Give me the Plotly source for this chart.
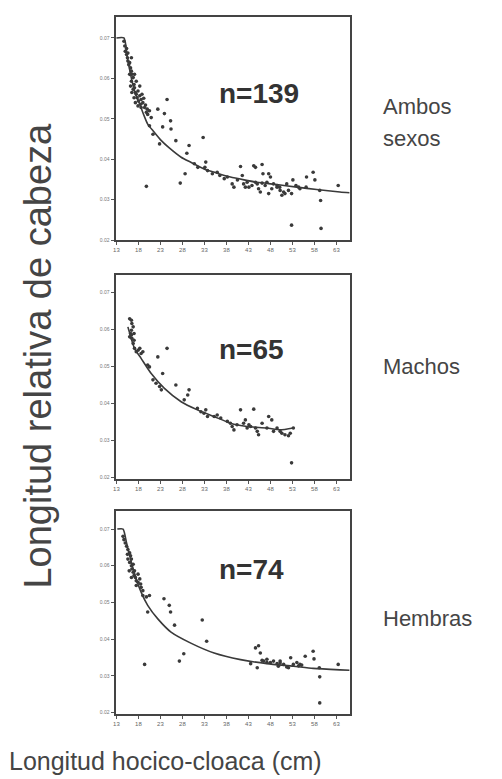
import plotly.graph_objects as go

# ---------------- data ----------------
x_ticks = [13, 18, 23, 28, 33, 38, 43, 48, 53, 58, 63]
x_tick_labels = ["13", "18", "23", "28", "33", "38", "43", "48", "53", "58", "63"]
y_ticks = [0.02, 0.03, 0.04, 0.05, 0.06, 0.07]
y_tick_labels = ["0.02", "0.03", "0.04", "0.05", "0.06", "0.07"]

# Ambos sexos (n=139)
both_x = [14.7, 14.9, 15.0, 15.3, 15.5, 15.6, 15.8, 16.0, 16.2, 16.4, 16.5, 16.4, 16.8, 17.0, 17.1, 16.8, 17.3, 17.5,
          17.7, 17.9, 18.0, 18.3, 18.5, 18.6, 19.0, 19.4, 19.8, 20.1, 20.5, 20.9, 16.0, 16.2, 16.5, 17.0, 17.3, 17.9,
          18.8, 19.2, 19.6, 20.0, 16.4, 15.6, 15.3, 17.1, 17.5, 18.3, 18.6, 20.5, 21.3, 22.8,
          22.4, 23.9, 24.5, 25.3, 25.4, 23.5, 26.5, 29.5, 32.7, 19.8, 27.5, 28.6, 29.0, 30.7, 33.3, 33.7, 33.1,
          34.8, 35.9, 38.2, 39.3, 39.7, 41.2, 41.6, 41.9, 42.7, 42.3, 44.2, 44.6, 45.0, 45.3, 45.7, 46.1, 46.3,
          46.8, 47.2, 47.6, 48.0, 48.3, 48.7, 49.5, 50.1, 50.6, 51.0, 51.3, 52.1, 52.8, 53.1, 53.8, 54.4, 54.7,
          56.2, 57.7, 58.1, 59.2, 59.4, 59.5, 52.8, 63.4, 56.1, 51.7, 43.1, 43.8, 47.6, 50.2, 49.5, 46.1, 44.6,
          36.5, 31.5, 40.5, 37.5]
both_y = [0.0692, 0.0680, 0.0667, 0.0659, 0.0651, 0.0643, 0.0634, 0.0639, 0.0626, 0.0618, 0.0610, 0.0593, 0.0602,
          0.0585, 0.0577, 0.0573, 0.0565, 0.0561, 0.0552, 0.0569, 0.0544, 0.0557, 0.0536, 0.0548, 0.0540, 0.0528,
          0.0516, 0.0511, 0.0520, 0.0503, 0.0610, 0.0581, 0.0565, 0.0552, 0.0540, 0.0532, 0.0561, 0.0551, 0.0534,
          0.0524, 0.0651, 0.0663, 0.0674, 0.0610, 0.0593, 0.0581, 0.0528, 0.0483, 0.0462, 0.0438,
          0.0524, 0.0513, 0.0548, 0.0495, 0.0475, 0.0480, 0.0446, 0.0434, 0.0454, 0.0333, 0.0341, 0.0364, 0.0415,
          0.0389, 0.0393, 0.0372, 0.0380, 0.0364, 0.0368, 0.0356, 0.0339, 0.0331, 0.0382, 0.0360, 0.0339, 0.0343,
          0.0331, 0.0384, 0.0380, 0.0339, 0.0327, 0.0319, 0.0387, 0.0364, 0.0335, 0.0343, 0.0364, 0.0356, 0.0327,
          0.0339, 0.0335, 0.0331, 0.0311, 0.0319, 0.0315, 0.0323, 0.0315, 0.0349, 0.0335, 0.0331, 0.0327, 0.0356,
          0.0368, 0.0349, 0.0323, 0.0298, 0.0229, 0.0237, 0.0335, 0.0331, 0.0339, 0.0331, 0.0335, 0.0315, 0.0323,
          0.0331, 0.0341, 0.0343, 0.0360, 0.0380, 0.0349, 0.0352]
both_fit_x = [13.0, 14.7, 15.5, 16.4, 17.2, 18.3, 19.2, 20.1, 21.5, 23.2, 25.0, 27.7, 30.0, 32.9, 35.5, 38.9, 42.0,
              45.0, 49.0, 54.0, 58.5, 63.8, 66.0]
both_fit_y = [0.0700, 0.0700, 0.0650, 0.0600, 0.0565, 0.0536, 0.0510, 0.0487, 0.0468, 0.0446, 0.0428, 0.0405,
              0.0392, 0.0376, 0.0367, 0.0356, 0.0349, 0.0343, 0.0338, 0.0331, 0.0325, 0.0319, 0.0317]

# Machos (n=65)
male_x = [16.0, 16.4, 16.5, 16.8, 16.4, 16.2, 16.0, 16.5, 17.0, 16.8, 17.1, 17.5, 17.9, 18.3, 18.6, 19.0, 16.4, 17.0,
          20.1, 20.5, 21.3, 22.0, 22.4, 23.2, 23.5, 24.5, 22.8, 26.5, 28.4, 29.2, 29.5, 31.4, 32.2, 32.9, 33.3, 33.7,
          35.2, 35.9, 38.2, 38.9, 39.3, 39.7, 41.2, 41.9, 42.3, 42.7, 43.1, 43.5, 44.2, 44.6, 45.0, 45.3, 47.2, 47.6,
          48.3, 48.7, 50.2, 50.6, 51.3, 52.1, 52.5, 53.2, 52.8, 40.4, 46.1, 49.5, 36.7]
male_y = [0.0628, 0.0624, 0.0615, 0.0606, 0.0597, 0.0588, 0.0579, 0.0575, 0.0570, 0.0561, 0.0548, 0.0539, 0.0543,
          0.0548, 0.0534, 0.0539, 0.0584, 0.0588, 0.0503, 0.0498, 0.0463, 0.0454, 0.0525, 0.0436, 0.0480, 0.0548,
          0.0445, 0.0449, 0.0409, 0.0422, 0.0436, 0.0386, 0.0377, 0.0373, 0.0382, 0.0364, 0.0364, 0.0368, 0.0351,
          0.0346, 0.0337, 0.0328, 0.0382, 0.0346, 0.0355, 0.0333, 0.0342, 0.0337, 0.0384, 0.0333, 0.0324, 0.0315,
          0.0333, 0.0364, 0.0355, 0.0324, 0.0324, 0.0319, 0.0315, 0.0312, 0.0319, 0.0333, 0.0239, 0.0342, 0.0346,
          0.0333, 0.0360]
male_fit_x = [15.6, 17.1, 18.6, 20.9, 23.9, 27.7, 31.4, 35.2, 38.9, 42.7, 47.2, 50.2, 53.2]
male_fit_y = [0.0606, 0.0548, 0.0521, 0.0480, 0.0440, 0.0404, 0.0382, 0.0364, 0.0346, 0.0337, 0.0333, 0.0328, 0.0333]

# Hembras (n=74)
female_x = [14.5, 14.7, 15.0, 15.3, 15.6, 16.0, 16.2, 16.4, 16.0, 16.4, 16.5, 16.8, 17.0, 17.3, 17.5, 17.9, 18.3,
            18.5, 18.6, 19.0, 19.0, 19.8, 20.5, 20.1, 15.6, 16.8, 17.1, 17.9, 16.4, 17.5, 15.5, 15.9,
            19.4, 23.8, 25.0, 25.3, 26.2, 27.3, 28.3, 32.5, 33.5, 43.5, 44.6, 45.0, 45.3, 45.7, 46.1, 46.5, 47.2,
            48.0, 48.7, 49.5, 49.8, 50.2, 51.0, 52.1, 52.6, 53.2, 54.0, 54.4, 54.7, 55.9, 57.7, 57.9, 59.1, 59.2,
            59.2, 63.4, 47.2, 50.2, 51.7, 55.1]
female_y = [0.0680, 0.0671, 0.0662, 0.0653, 0.0644, 0.0635, 0.0627, 0.0618, 0.0609, 0.0600, 0.0591, 0.0582, 0.0573,
            0.0568, 0.0559, 0.0555, 0.0564, 0.0550, 0.0541, 0.0532, 0.0519, 0.0515, 0.0519, 0.0474, 0.0618, 0.0604,
            0.0586, 0.0577, 0.0568, 0.0546, 0.0631, 0.0586,
            0.0331, 0.0510, 0.0492, 0.0474, 0.0438, 0.0340, 0.0360, 0.0452, 0.0394, 0.0333, 0.0376, 0.0322, 0.0382,
            0.0362, 0.0342, 0.0340, 0.0345, 0.0336, 0.0340, 0.0333, 0.0326, 0.0340, 0.0331, 0.0322, 0.0349, 0.0331,
            0.0336, 0.0327, 0.0331, 0.0353, 0.0367, 0.0346, 0.0322, 0.0297, 0.0226, 0.0331, 0.0336, 0.0335, 0.0324,
            0.0329]
female_fit_x = [13.2, 14.5, 15.3, 16.4, 17.5, 18.6, 20.1, 22.4, 25.4, 29.9, 35.2, 41.2, 47.2, 53.2, 57.7, 63.8, 66.0]
female_fit_y = [0.0700, 0.0700, 0.0662, 0.0609, 0.0564, 0.0528, 0.0492, 0.0455, 0.0419, 0.0389, 0.0362, 0.0344,
                0.0333, 0.0326, 0.0320, 0.0316, 0.0315]

n_labels = ["n=139", "n=65", "n=74"]
group_labels = [["Ambos", "sexos"], ["Machos"], ["Hembras"]]
x_title = "Longitud hocico-cloaca (cm)"
y_title = "Longitud relativa de cabeza"

panels = [
    dict(px=both_x, py=both_y, fx=both_fit_x, fy=both_fit_y, top=9, bottom=233, yr=[0.02, 0.0752],
         ny=86, ly=[99, 131]),
    dict(px=male_x, py=male_y, fx=male_fit_x, fy=male_fit_y, top=268, bottom=473, yr=[0.0195, 0.0746],
         ny=343, ly=[360]),
    dict(px=female_x, py=female_y, fx=female_fit_x, fy=female_fit_y, top=505, bottom=709, yr=[0.0195, 0.0749],
         ny=564, ly=[613]),
]

W, H = 502, 779
LEFT, RIGHT = 106, 341
INK = "#3a3a3a"
TXT = "#454545"

fig = go.Figure()
annotations = []
layout_axes = {}
for i, p in enumerate(panels, start=1):
    xa = "x" if i == 1 else f"x{i}"
    ya = "y" if i == 1 else f"y{i}"
    fig.add_trace(go.Scatter(x=p["px"], y=p["py"], mode="markers", xaxis=xa, yaxis=ya,
                             marker=dict(size=3.6, color=INK), showlegend=False))
    fig.add_trace(go.Scatter(x=p["fx"], y=p["fy"], mode="lines", xaxis=xa, yaxis=ya,
                             line=dict(color=INK, width=1.6, shape="spline", smoothing=0.6),
                             showlegend=False))
    kx = "xaxis" if i == 1 else f"xaxis{i}"
    ky = "yaxis" if i == 1 else f"yaxis{i}"
    layout_axes[kx] = dict(domain=[LEFT / W, RIGHT / W], range=[12.8, 66], anchor=ya,
                           tickvals=x_ticks, ticktext=x_tick_labels, ticks="outside", ticklen=3,
                           tickcolor="#555", tickfont=dict(size=6, color="#666", family="Liberation Sans"),
                           showline=True, linecolor="#444", linewidth=2, mirror=True,
                           showgrid=False, zeroline=False, fixedrange=True)
    layout_axes[ky] = dict(domain=[1 - p["bottom"] / H, 1 - p["top"] / H], range=p["yr"], anchor=xa,
                           tickvals=y_ticks, ticktext=y_tick_labels, ticks="outside", ticklen=3,
                           tickcolor="#555", tickfont=dict(size=5, color="#777", family="Liberation Sans"),
                           showline=True, linecolor="#444", linewidth=2, mirror=True,
                           showgrid=False, zeroline=False, fixedrange=True)
    annotations.append(dict(text=f"<b>{n_labels[i - 1]}</b>", xref="paper", yref="paper",
                            x=208 / W, y=1 - p["ny"] / H, xanchor="left", yanchor="middle",
                            showarrow=False, font=dict(size=28, color="#333", family="Liberation Sans")))
    for txt, ly in zip(group_labels[i - 1], p["ly"]):
        annotations.append(dict(text=txt, xref="paper", yref="paper", x=372 / W, y=1 - ly / H,
                                xanchor="left", yanchor="middle", showarrow=False,
                                font=dict(size=22, color=TXT, family="Liberation Sans")))

annotations.append(dict(text=y_title, xref="paper", yref="paper",
                        x=28 / W, y=1 - 349 / H, textangle=-90, xanchor="center", yanchor="middle",
                        showarrow=False, font=dict(size=38, color=TXT, family="Liberation Sans")))
annotations.append(dict(text=x_title, xref="paper", yref="paper",
                        x=-3 / W, y=1 - 756 / H, xanchor="left", yanchor="middle",
                        showarrow=False, font=dict(size=25, color=TXT, family="Liberation Sans")))

fig.update_layout(width=W, height=H, margin=dict(l=0, r=0, t=0, b=0),
                  paper_bgcolor="white", plot_bgcolor="white", annotations=annotations,
                  **layout_axes)

fig.write_html("out.html")
